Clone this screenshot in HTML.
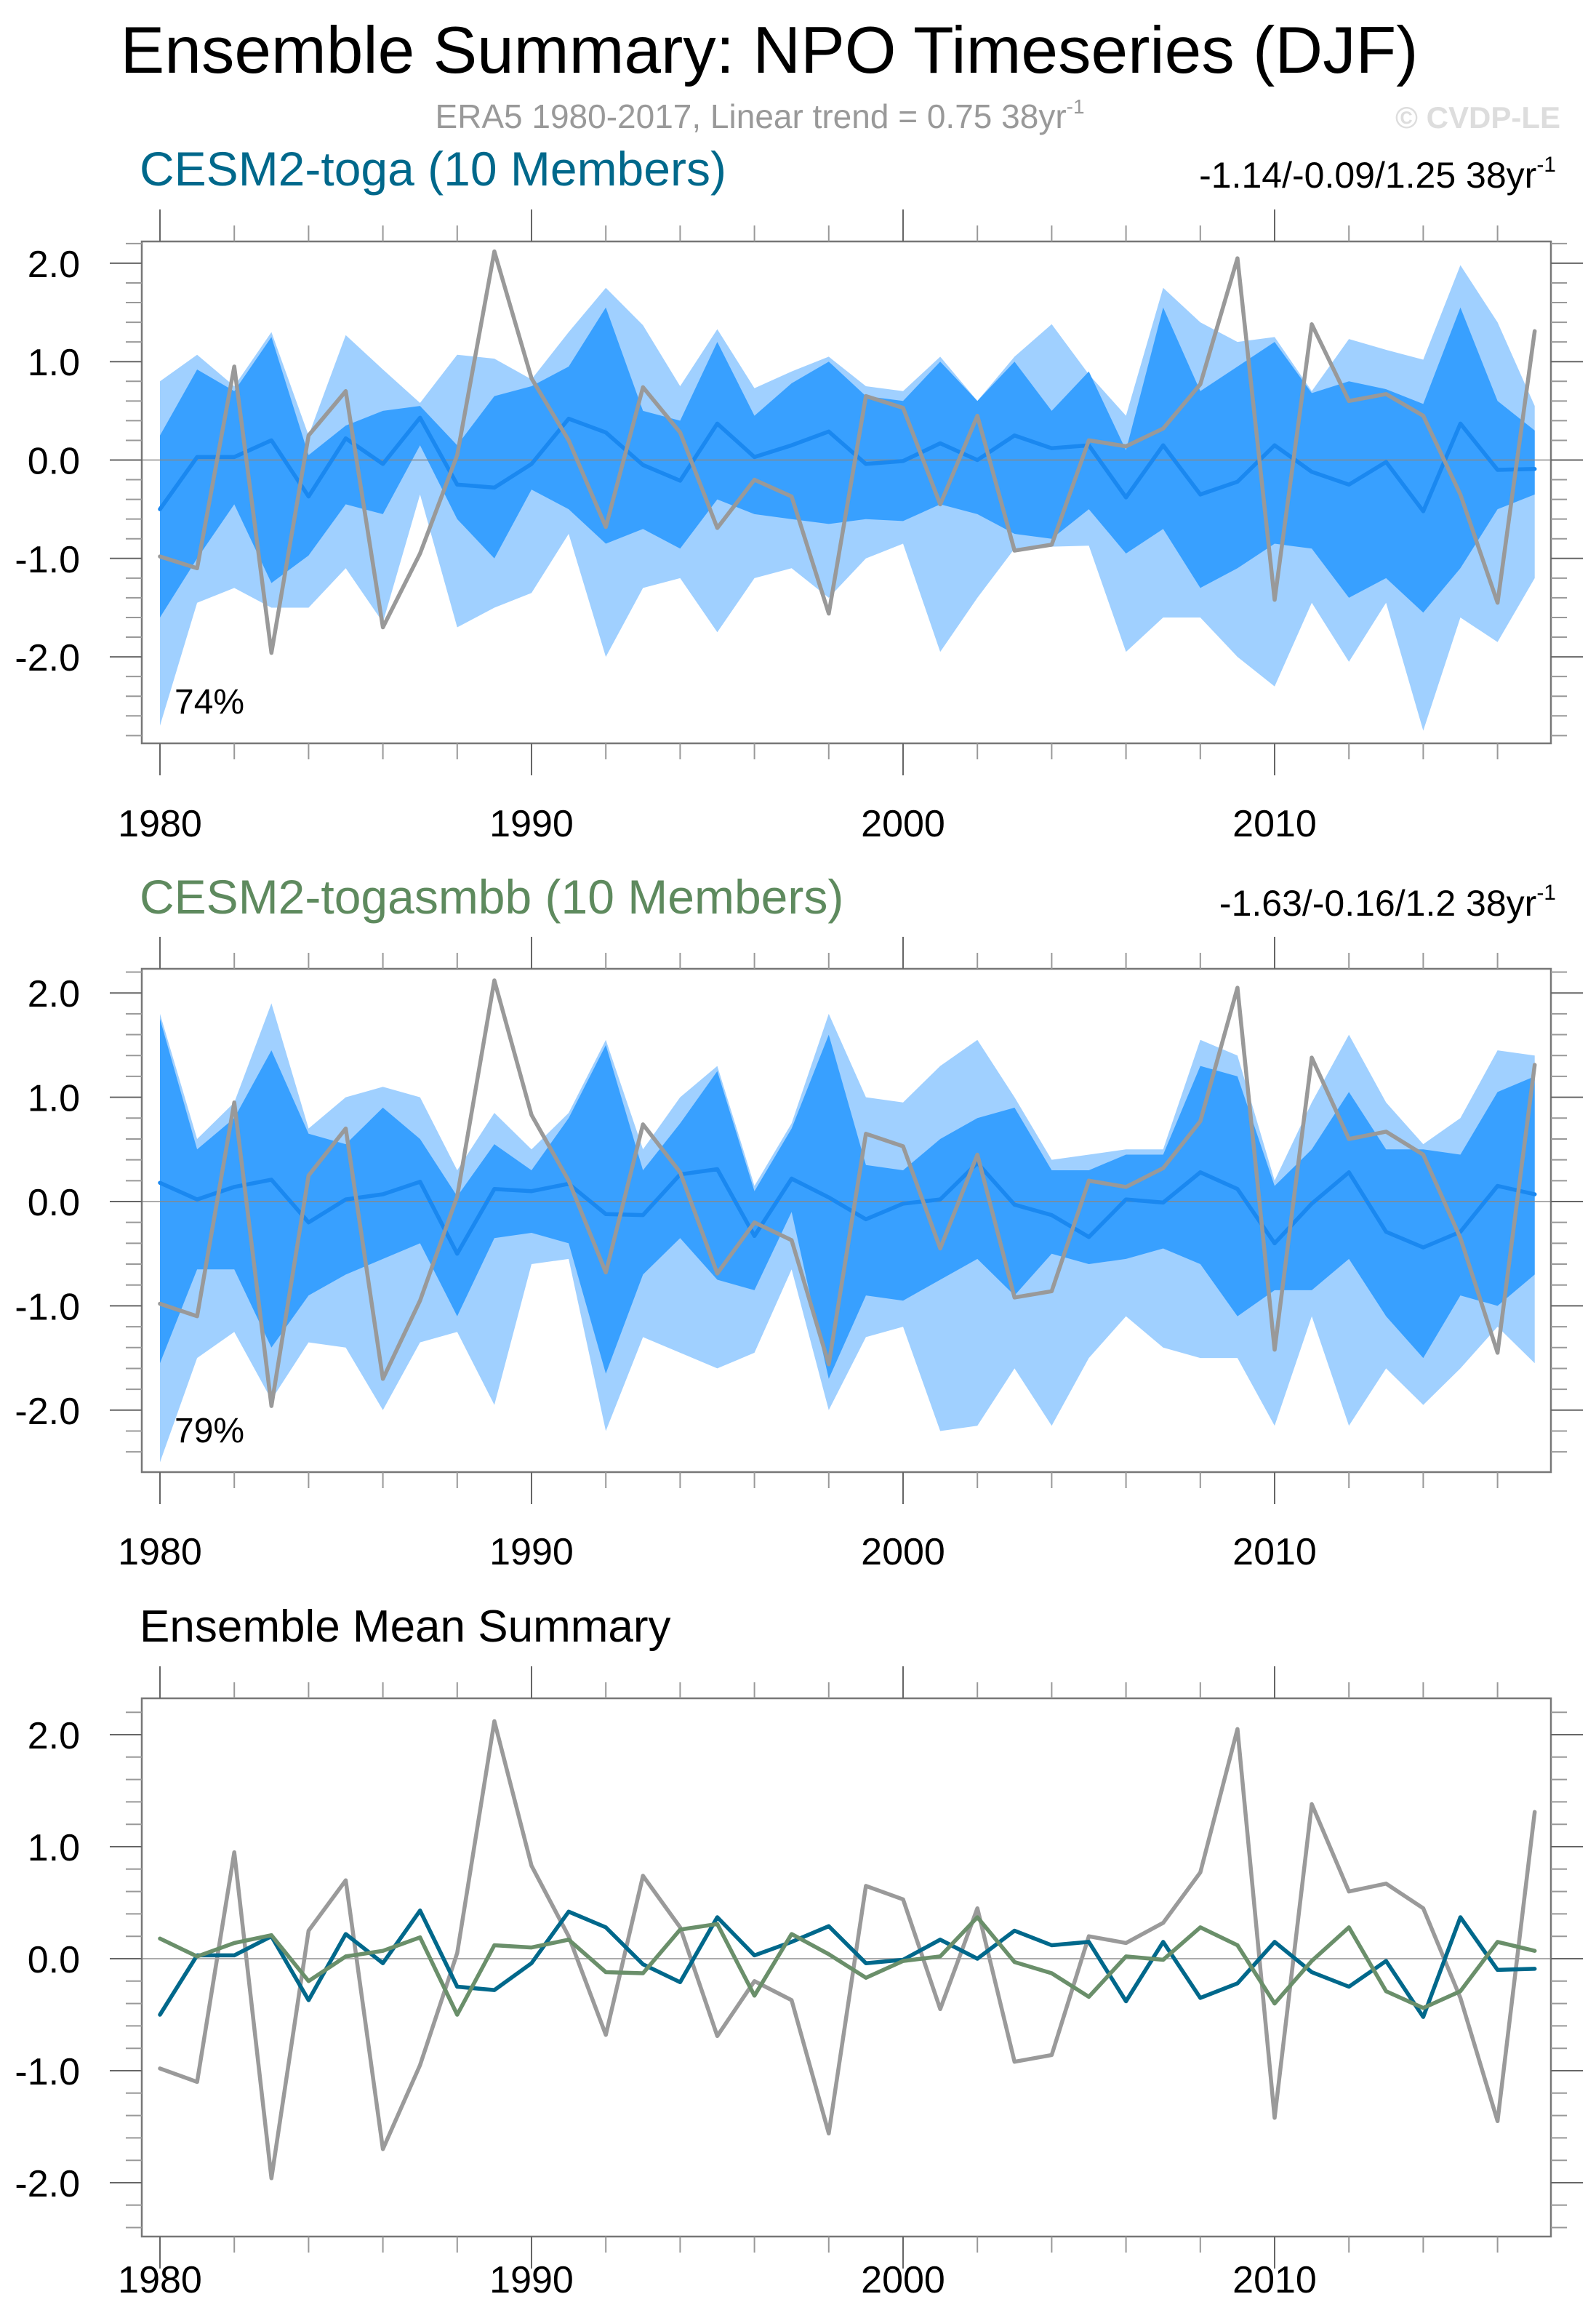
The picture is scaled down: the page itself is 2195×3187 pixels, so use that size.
<!DOCTYPE html>
<html><head><meta charset="utf-8"><style>
html,body{margin:0;padding:0;background:#fff;}
svg{display:block;font-family:"Liberation Sans",sans-serif;}
</style></head><body>
<svg id="fig" width="2195" height="3187" viewBox="0 0 2195 3187">
<text x="1058" y="100" font-size="91" text-anchor="middle" fill="#000">Ensemble Summary: NPO Timeseries (DJF)</text>
<text x="1045" y="176" font-size="46" text-anchor="middle" fill="#999">ERA5 1980-2017, Linear trend = 0.75 38yr<tspan dy="-20" font-size="28">-1</tspan></text>
<text x="2146" y="176" font-size="42" text-anchor="end" fill="#ddd" font-weight="bold">© CVDP-LE</text>
<text x="192" y="255" font-size="66" fill="#00688b">CESM2-toga (10 Members)</text>
<text x="2140" y="258" font-size="50" text-anchor="end" fill="#000">-1.14/-0.09/1.25 38yr<tspan dy="-22" font-size="30">-1</tspan></text>
<text x="192" y="1256" font-size="66" fill="#5e8a5e">CESM2-togasmbb (10 Members)</text>
<text x="2140" y="1259" font-size="50" text-anchor="end" fill="#000">-1.63/-0.16/1.2 38yr<tspan dy="-22" font-size="30">-1</tspan></text>
<text x="192" y="2257" font-size="62" fill="#000">Ensemble Mean Summary</text>
<g id="p1"></g>
<g id="p2"></g>
<g id="p3"></g>
</svg>
<script>
const years=[1980,1981,1982,1983,1984,1985,1986,1987,1988,1989,1990,1991,1992,1993,1994,1995,1996,1997,1998,1999,2000,2001,2002,2003,2004,2005,2006,2007,2008,2009,2010,2011,2012,2013,2014,2015,2016,2017];
const yTicks=[2,1,0,-1,-2];
const yTickLabels=["2.0","1.0","0.0","-1.0","-2.0"];
const xTickLabels=[1980,1990,2000,2010];
const era5=[-0.98,-1.1,0.95,-1.96,0.25,0.7,-1.7,-0.95,0.05,2.12,0.83,0.2,-0.68,0.74,0.28,-0.69,-0.2,-0.37,-1.56,0.65,0.53,-0.45,0.45,-0.92,-0.86,0.2,0.14,0.32,0.77,2.05,-1.42,1.38,0.6,0.67,0.45,-0.35,-1.45,1.31];
const togaMean=[-0.5,0.03,0.03,0.2,-0.37,0.22,-0.04,0.43,-0.25,-0.28,-0.04,0.42,0.28,-0.05,-0.21,0.37,0.03,0.15,0.29,-0.04,-0.01,0.17,0.0,0.25,0.12,0.15,-0.38,0.15,-0.35,-0.22,0.15,-0.12,-0.25,-0.02,-0.52,0.37,-0.1,-0.09];
const togaOuterHi=[0.8,1.07,0.75,1.3,0.25,1.27,0.92,0.58,1.07,1.03,0.82,1.3,1.75,1.37,0.75,1.33,0.73,0.9,1.05,0.75,0.7,1.05,0.6,1.05,1.38,0.87,0.45,1.75,1.4,1.2,1.25,0.7,1.23,1.12,1.02,1.98,1.4,0.55];
const togaInnerHi=[0.25,0.92,0.7,1.25,0.05,0.35,0.5,0.55,0.15,0.65,0.75,0.95,1.55,0.5,0.4,1.2,0.45,0.78,1.0,0.65,0.6,1.0,0.6,1.0,0.5,0.9,0.1,1.55,0.7,0.95,1.2,0.68,0.8,0.72,0.57,1.55,0.6,0.3];
const togaInnerLo=[-1.6,-1.0,-0.45,-1.25,-0.97,-0.45,-0.55,0.15,-0.6,-1.0,-0.3,-0.5,-0.85,-0.7,-0.9,-0.4,-0.55,-0.6,-0.65,-0.6,-0.62,-0.45,-0.55,-0.75,-0.8,-0.5,-0.95,-0.7,-1.3,-1.1,-0.85,-0.9,-1.4,-1.2,-1.55,-1.1,-0.5,-0.35];
const togaOuterLo=[-2.7,-1.45,-1.3,-1.5,-1.5,-1.1,-1.65,-0.35,-1.7,-1.5,-1.35,-0.75,-2.0,-1.3,-1.2,-1.75,-1.2,-1.1,-1.4,-1.0,-0.85,-1.95,-1.4,-0.9,-0.88,-0.87,-1.95,-1.6,-1.6,-2.0,-2.3,-1.45,-2.05,-1.45,-2.75,-1.6,-1.85,-1.2];
const smbbMean=[0.18,0.02,0.14,0.21,-0.2,0.02,0.07,0.19,-0.5,0.12,0.1,0.17,-0.12,-0.13,0.26,0.31,-0.33,0.22,0.04,-0.17,-0.02,0.02,0.37,-0.03,-0.13,-0.34,0.02,-0.01,0.28,0.12,-0.4,-0.02,0.28,-0.29,-0.44,-0.29,0.15,0.07];
const smbbOuterHi=[1.8,0.6,0.95,1.9,0.7,1.0,1.1,1.0,0.3,0.85,0.5,0.85,1.55,0.5,1.0,1.3,0.15,0.75,1.8,1.0,0.95,1.3,1.55,1.0,0.4,0.45,0.5,0.5,1.55,1.4,0.2,0.95,1.6,0.95,0.55,0.8,1.45,1.4];
const smbbInnerHi=[1.75,0.5,0.8,1.45,0.65,0.55,0.9,0.6,0.05,0.55,0.3,0.8,1.5,0.3,0.75,1.25,0.1,0.7,1.6,0.35,0.3,0.6,0.8,0.9,0.3,0.3,0.45,0.45,1.3,1.2,0.15,0.5,1.05,0.5,0.5,0.45,1.05,1.2];
const smbbInnerLo=[-1.55,-0.65,-0.65,-1.4,-0.9,-0.7,-0.55,-0.4,-1.1,-0.35,-0.3,-0.4,-1.65,-0.7,-0.35,-0.75,-0.85,-0.1,-1.7,-0.9,-0.95,-0.75,-0.55,-0.9,-0.5,-0.6,-0.55,-0.45,-0.6,-1.1,-0.85,-0.85,-0.55,-1.1,-1.5,-0.9,-1.0,-0.7];
const smbbOuterLo=[-2.5,-1.5,-1.25,-1.9,-1.35,-1.4,-2.0,-1.35,-1.25,-1.95,-0.6,-0.55,-2.2,-1.3,-1.45,-1.6,-1.45,-0.65,-2.0,-1.3,-1.2,-2.2,-2.15,-1.6,-2.15,-1.5,-1.1,-1.4,-1.5,-1.5,-2.15,-1.1,-2.15,-1.6,-1.95,-1.6,-1.2,-1.55];

const NS='http://www.w3.org/2000/svg';
function mk(parent,tag,attrs){const e=document.createElementNS(NS,tag);for(const k in attrs)e.setAttribute(k,attrs[k]);parent.appendChild(e);return e;}

function panel(gid,box,zeroY,unit,labelY,opts){
  const g=document.getElementById(gid);
  const xs=v=>220+(v-1980)*51.1;
  const ys=v=>zeroY-v*unit;
  const line=arr=>arr.map((v,i)=>(i?'L':'M')+xs(years[i]).toFixed(1)+','+ys(v).toFixed(1)).join(' ');
  const band=(hi,lo)=>{let d=hi.map((v,i)=>(i?'L':'M')+xs(years[i]).toFixed(1)+','+ys(v).toFixed(1)).join(' ');for(let i=lo.length-1;i>=0;i--)d+=' L'+xs(years[i]).toFixed(1)+','+ys(lo[i]).toFixed(1);return d+' Z';};
  if(opts.bands){
    const o=mk(g,'path',{d:band(opts.bands[0],opts.bands[3]),fill:'#a0d0ff'});
    
    
    const n=mk(g,'path',{d:band(opts.bands[1],opts.bands[2]),fill:'#38a0ff'});
    
    
  }
  const z=mk(g,'line',{x1:box[0],x2:box[2],y1:ys(0),y2:ys(0),stroke:'#888','stroke-width':2,'stroke-opacity':0.7});
  
  
  opts.lines.forEach(l=>{
    const p=mk(g,'path',{d:line(l.data),fill:'none',stroke:l.color,'stroke-width':5.5,'stroke-linejoin':'round','stroke-linecap':'round'});
    
    
  });
  const fr=mk(g,'rect',{x:box[0],y:box[1],width:box[2]-box[0],height:box[3]-box[1],fill:'none',stroke:'#777','stroke-width':2.5});
  
  
  for(let v=-3;v<=2.6;v=Math.round((v+0.2)*10)/10){
    const y=ys(v); if(y<box[1]+1||y>box[3]-1) continue;
    const maj=Math.abs(v-Math.round(v))<1e-6; const L=maj?44:22;
    const t1=mk(g,'line',{x1:box[0]-L,x2:box[0],y1:y,y2:y,stroke:maj?'#666':'#999','stroke-width':2});
    
    
    const t2=mk(g,'line',{x1:box[2],x2:box[2]+L,y1:y,y2:y,stroke:maj?'#666':'#999','stroke-width':2});
    
    
  }
  yTicks.forEach((v,i)=>{
    const t=mk(g,'text',{x:110,y:ys(v)+19,'font-size':52,'text-anchor':'end',fill:'#000'});
    t.textContent=yTickLabels[i];
    
    
  });
  for(let yr=1980;yr<=2018;yr+=2){
    const x=xs(yr); if(x>box[2]) continue;
    const maj=yr%10===0; const L=maj?44:22;
    const b=mk(g,'line',{x1:x,x2:x,y1:box[3],y2:box[3]+L,stroke:maj?'#666':'#999','stroke-width':2});
    
    
    const t=mk(g,'line',{x1:x,x2:x,y1:box[1]-L,y2:box[1],stroke:maj?'#666':'#999','stroke-width':2});
    
    
  }
  xTickLabels.forEach(yr=>{
    const t=mk(g,'text',{x:xs(yr),y:labelY,'font-size':52,'text-anchor':'middle',fill:'#000'});
    t.textContent=yr;
    
    
  });
  if(opts.pct){
    const t=mk(g,'text',{x:240,y:opts.pct[1],'font-size':48,fill:'#000'});
    t.textContent=opts.pct[0];
    
    
  }
}
panel('p1',[195,332,2133,1022],632.5,135.3,1150,{bands:[togaOuterHi,togaInnerHi,togaInnerLo,togaOuterLo],
  lines:[{data:togaMean,color:'#1a88f0',name:'toga-ensemble-mean-line'},{data:era5,color:'#999',name:'era5-line'}],pct:['74%',981]});
panel('p2',[195,1332,2133,2024],1652,143.4,2151,{bands:[smbbOuterHi,smbbInnerHi,smbbInnerLo,smbbOuterLo],
  lines:[{data:smbbMean,color:'#1a88f0',name:'togasmbb-ensemble-mean-line'},{data:era5,color:'#999',name:'era5-line'}],pct:['79%',1983]});
panel('p3',[195,2335,2133,3075],2693,154,3152,{
  lines:[{data:era5,color:'#9a9a9a',name:'era5-line'},{data:togaMean,color:'#00688b',name:'toga-mean-line'},{data:smbbMean,color:'#6a8f6a',name:'togasmbb-mean-line'}]});
</script>
</body></html>
